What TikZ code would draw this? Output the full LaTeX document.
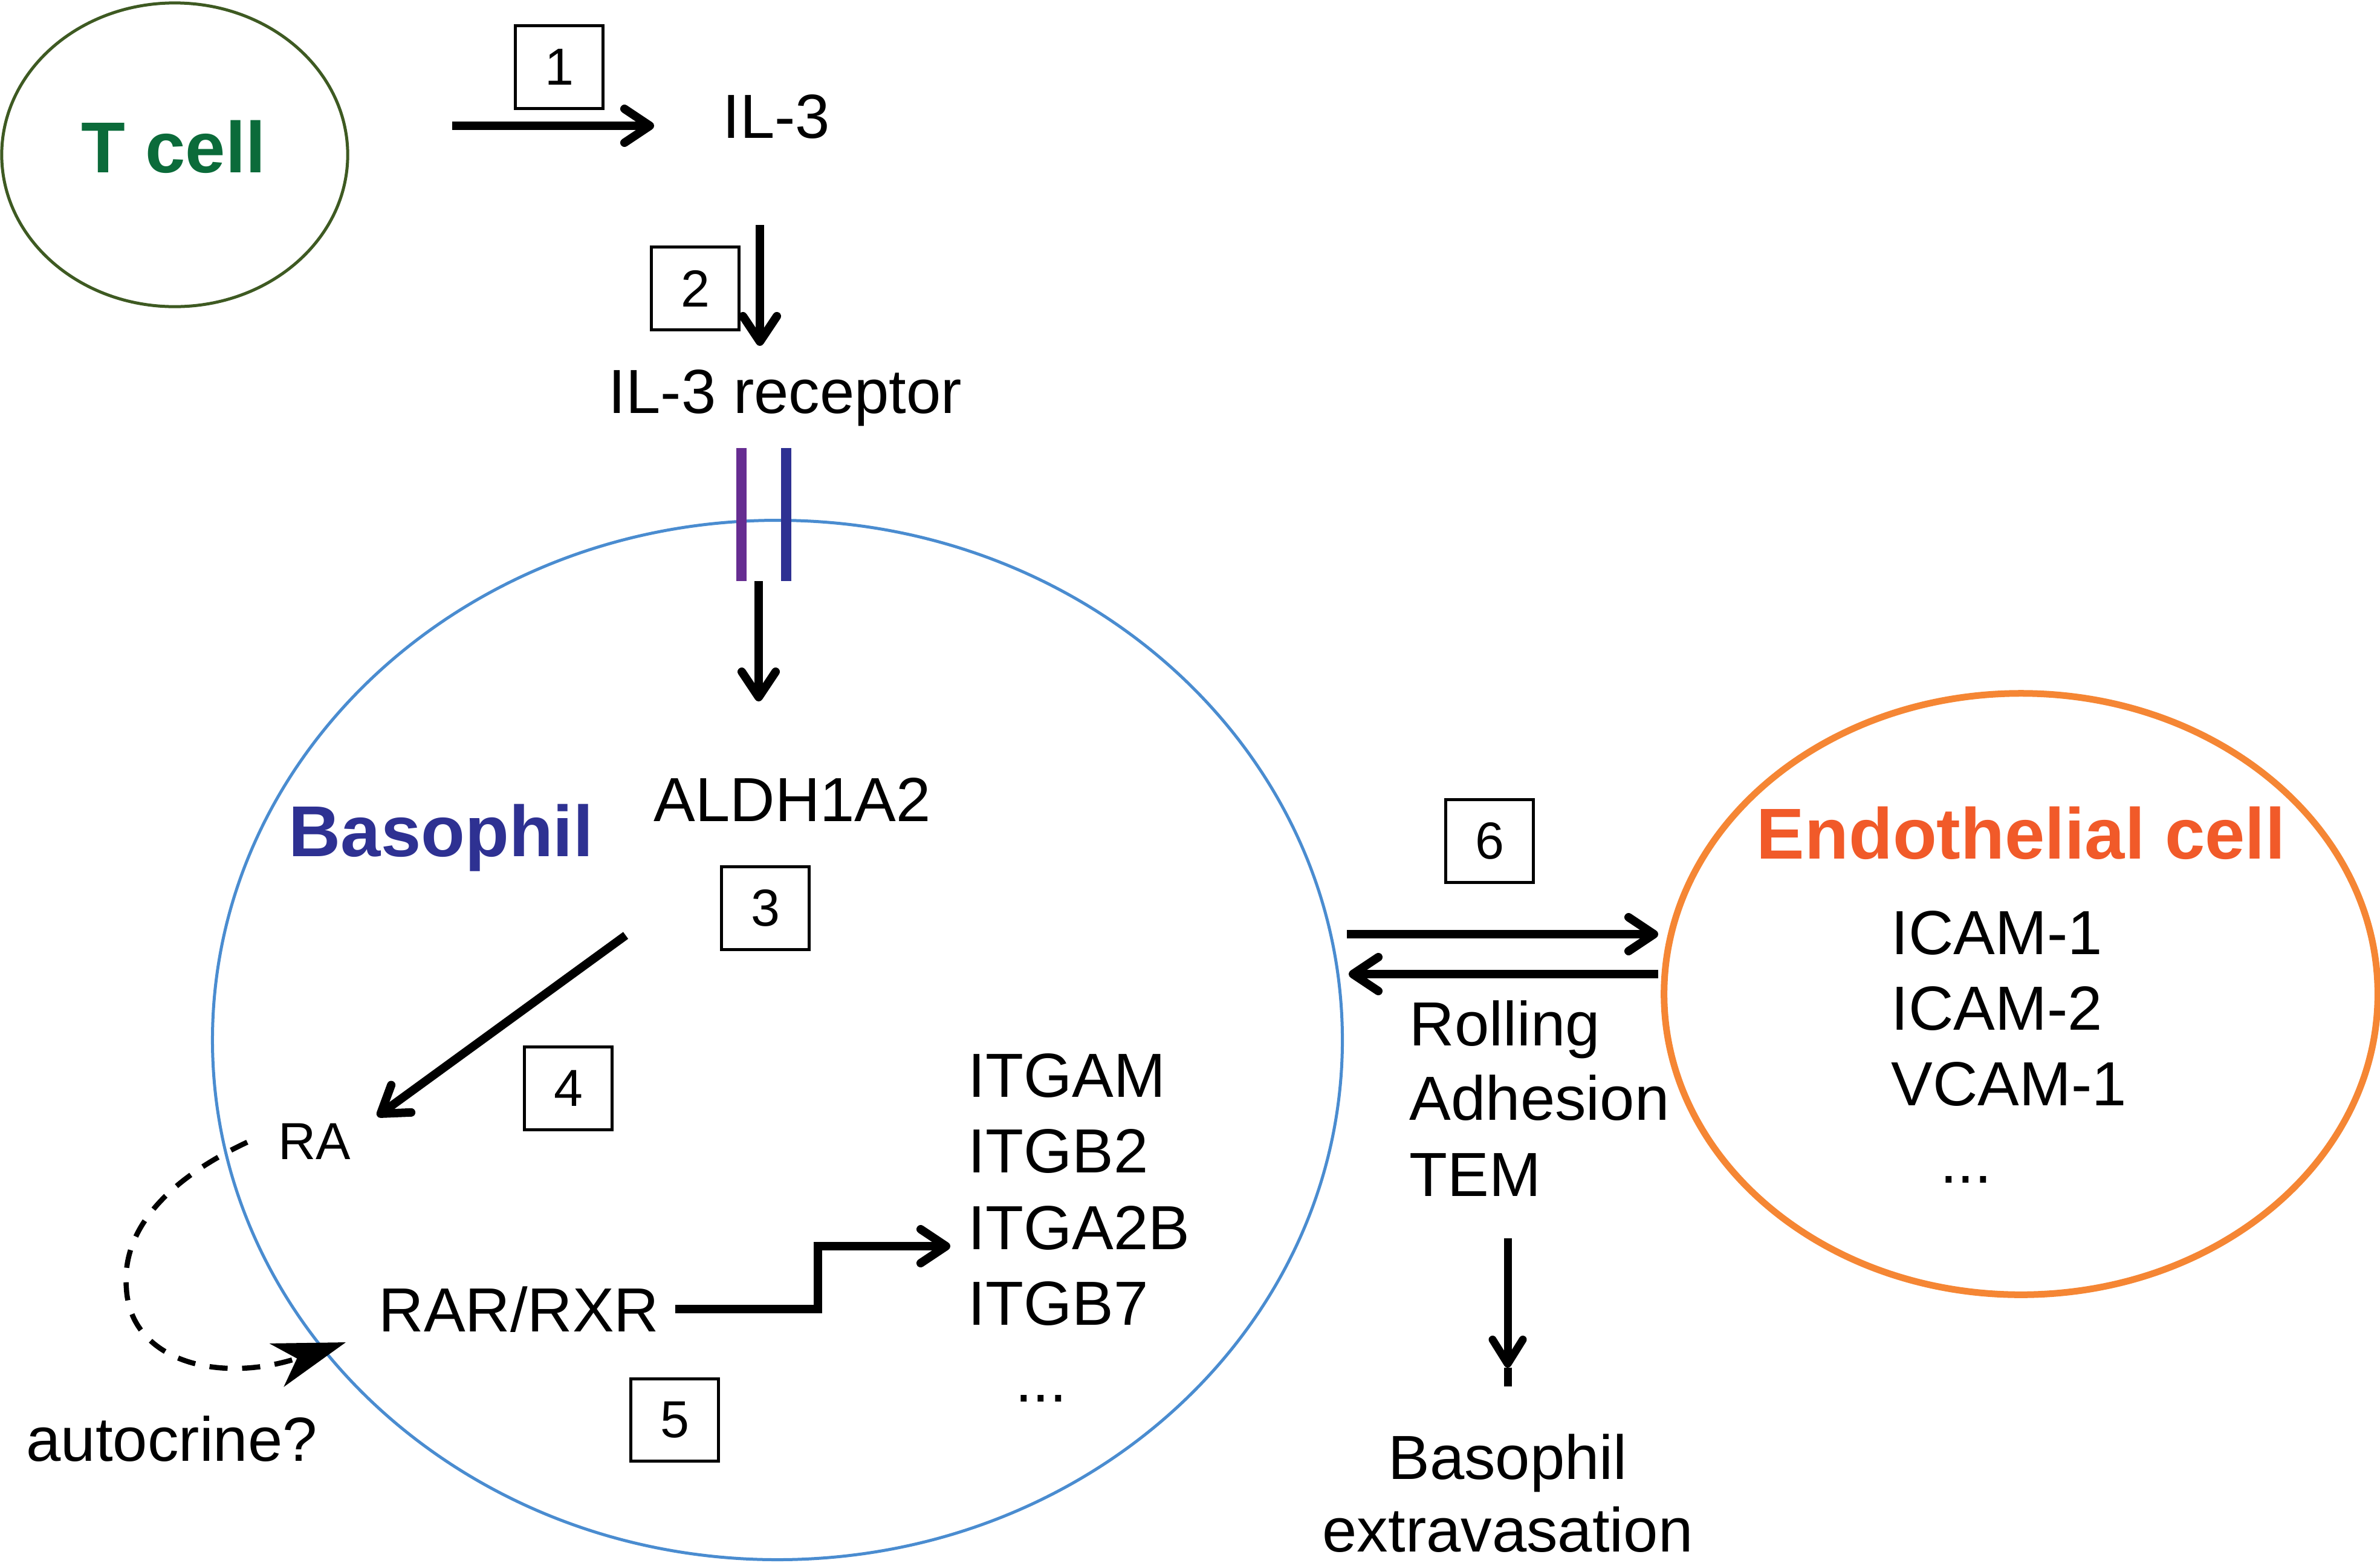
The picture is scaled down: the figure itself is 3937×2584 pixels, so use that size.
\documentclass[tikz,border=0pt]{standalone}
\usepackage{fontspec}
\setmainfont{Liberation Sans}
\usetikzlibrary{arrows.meta,shapes.geometric}
\definecolor{tgreen}{HTML}{3E5A22}
\definecolor{ttext}{HTML}{0B6B3A}
\definecolor{bblue}{HTML}{4A8CD0}
\definecolor{btext}{HTML}{2E3192}
\definecolor{rpurple}{HTML}{662D91}
\definecolor{rblue}{HTML}{2E3192}
\definecolor{eorange}{HTML}{F58634}
\definecolor{etext}{HTML}{F15A29}
\begin{document}
\begin{tikzpicture}[x=0.01cm,y=-0.01cm,
  lbl/.style={inner sep=0pt, font=\fontsize{29.3pt}{35pt}\selectfont},
  smalllbl/.style={inner sep=0pt, font=\fontsize{24.5pt}{30pt}\selectfont},
  celltitle/.style={inner sep=0pt, font=\fontsize{33.9pt}{40pt}\selectfont\bfseries},
  numbox/.style={draw, line width=0.05cm, minimum width=1.45cm, minimum height=1.36cm, inner sep=0pt, font=\fontsize{24.5pt}{30pt}\selectfont},
  cell/.style={ellipse, inner sep=0pt},
  arr/.style={line width=0.14cm, -{Straight Barb[length=0.42cm, width=0.56cm, round]}},
  recbar/.style={line width=0.17cm},
]
\useasboundingbox (0,0) rectangle (3937,2584);

% cells
\node[cell, draw=tgreen, line width=0.05cm, minimum width=5.72cm, minimum height=5.02cm] (tcell) at (289,256) {};
\node[cell, draw=bblue, line width=0.05cm, minimum width=18.68cm, minimum height=17.18cm] (baso) at (1286,1720) {};
\node[cell, draw=eorange, line width=0.11cm, minimum width=11.8cm, minimum height=9.94cm] (endo) at (3343,1644) {};

% titles
\node[celltitle, text=ttext, anchor=base] (tcelltxt) at (287,285) {T cell};
\node[celltitle, text=btext, anchor=base west] (basotxt) at (477,1416) {Basophil};
\node[celltitle, text=etext, anchor=base] (endotxt) at (3343,1420) {Endothelial cell};

% step 1
\node[numbox] (b1) at (925,111) {1};
\coordinate (a1s) at (748,208);
\coordinate (a1e) at (1082,208);
\draw[arr] (a1s) -- (a1e);
\node[lbl, anchor=base west] (il3) at (1195,228) {IL-3};

% step 2
\node[numbox] (b2) at (1150,477) {2};
\coordinate (a2s) at (1257,372);
\coordinate (a2e) at (1257,572);
\draw[arr] (a2s) -- (a2e);
\node[lbl, anchor=base] (il3r) at (1299,683) {IL-3 receptor};

% receptor
\coordinate (rp1) at (1226,741);
\coordinate (rp2) at (1226,961);
\coordinate (rb1) at (1300,741);
\coordinate (rb2) at (1300,961);
\draw[recbar, draw=rpurple] (rp1) -- (rp2);
\draw[recbar, draw=rblue] (rb1) -- (rb2);
\coordinate (a3s) at (1255,961);
\coordinate (a3e) at (1255,1160);
\draw[arr] (a3s) -- (a3e);

% step 3
\node[lbl, anchor=base west] (aldh) at (1081,1358) {ALDH1A2};
\node[numbox] (b3) at (1266,1502) {3};

% step 4
\coordinate (a4s) at (1035,1547);
\coordinate (a4e) at (624,1846);
\draw[arr] (a4s) -- (a4e);
\node[numbox] (b4) at (940,1800) {4};
\node[smalllbl, anchor=base west] (ra) at (460,1917) {RA};

% autocrine loop
\coordinate (ds) at (409,1889);
\coordinate (dm) at (209,2130);
\coordinate (de) at (572,2220);
\draw[line width=0.085cm, dash pattern=on 0.3cm off 0.24cm,
      -{Stealth[length=1.2cm, width=0.75cm, inset=0.35cm]}]
  (ds) .. controls (300,1940) and (200,2020) .. (dm)
       .. controls (215,2250) and (360,2290) .. (de);
\node[lbl, anchor=base west] (auto) at (43,2416) {autocrine?};

% step 5
\node[lbl, anchor=base west] (rar) at (626,2202) {RAR/RXR};
\coordinate (e1) at (1117,2165);
\coordinate (e2) at (1353,2165);
\coordinate (e3) at (1353,2061);
\coordinate (e4) at (1572,2061);
\draw[arr, line join=miter] (e1) -- (e2) -- (e3) -- (e4);
\node[numbox] (b5) at (1116,2348) {5};

\node[lbl, anchor=base west] (itg1) at (1601,1814) {ITGAM};
\node[lbl, anchor=base west] (itg2) at (1601,1939) {ITGB2};
\node[lbl, anchor=base west] (itg3) at (1601,2066) {ITGA2B};
\node[lbl, anchor=base west] (itg4) at (1601,2191) {ITGB7};
\node[lbl, anchor=base] (itg5) at (1722,2318) {...};

% step 6
\node[numbox] (b6) at (2464,1391) {6};
\coordinate (r1s) at (2228,1545);
\coordinate (r1e) at (2743,1545);
\coordinate (r2s) at (2743,1611);
\coordinate (r2e) at (2231,1611);
\draw[arr] (r1s) -- (r1e);
\draw[arr] (r2s) -- (r2e);
\node[lbl, anchor=base west] (roll) at (2331,1729) {Rolling};
\node[lbl, anchor=base west] (adh) at (2331,1852) {Adhesion};
\node[lbl, anchor=base west] (tem) at (2331,1978) {TEM};

\node[lbl, anchor=base west] (icam1) at (3128,1578) {ICAM-1};
\node[lbl, anchor=base west] (icam2) at (3128,1703) {ICAM-2};
\node[lbl, anchor=base west] (vcam) at (3128,1828) {VCAM-1};
\node[lbl, anchor=base] (edots) at (3252,1956) {...};

% extravasation
\coordinate (xs) at (2494,2048);
\coordinate (xh) at (2494,2262);
\coordinate (xe) at (2494,2293);
\draw[line width=0.13cm, -{Straight Barb[length=0.4cm, width=0.5cm, round]}] (xs) -- (xh);
\draw[line width=0.13cm] (xh) -- (xe);
\node[lbl, anchor=base] (bex1) at (2494,2446) {Basophil};
\node[lbl, anchor=base] (bex2) at (2494,2566) {extravasation};
\end{tikzpicture}
\end{document}
